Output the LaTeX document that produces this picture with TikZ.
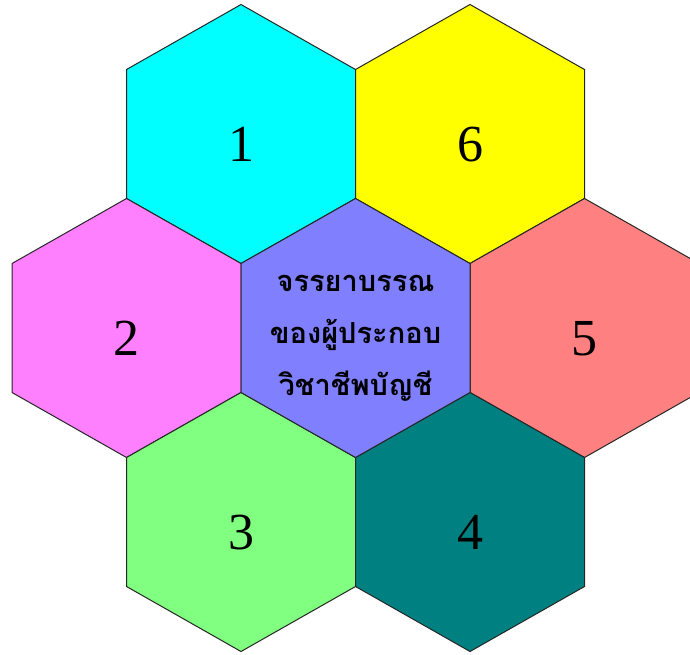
\documentclass[tikz,border=0pt]{standalone}
\usepackage{fontspec}
\setmainfont{Liberation Serif}
\newfontfamily\thaifont[Script=Thai]{Loma}
\usetikzlibrary{calc}

\definecolor{hexcyan}{HTML}{00FFFF}
\definecolor{hexyellow}{HTML}{FFFF00}
\definecolor{hexpink}{HTML}{FF80FF}
\definecolor{hexblue}{HTML}{8080FF}
\definecolor{hexsalmon}{HTML}{FF8080}
\definecolor{hexgreen}{HTML}{80FF80}
\definecolor{hexteal}{HTML}{008080}

\begin{document}
\begin{tikzpicture}[x=1pt,y=-1pt]

% --------------------
% Parameters (pixel units, y grows downwards)
% --------------------
\def\hexW{114.5}  % half width of a cell
\def\hexR{129.5}  % centre to top/bottom tip
\def\hexS{64.5}   % centre to side corners (vertical)
\def\numOff{27}   % baseline of the digit below the centre

\tikzset{
  hexcell/.style={draw=black!85, line width=1pt, line join=miter},
  numlbl/.style={font=\fontsize{52}{60}\selectfont, anchor=base, inner sep=0pt},
  titlelbl/.style={font=\thaifont\bfseries\fontsize{29}{52}\selectfont, align=center, inner sep=0pt}
}

\useasboundingbox (0,0) rectangle (690,655);
\clip (0,0) rectangle (690,655);

% --------------------
% Outer cells with numbers
% --------------------
\foreach \hx/\cx/\cy/\hcol/\txt in {
    c1/241/134/hexcyan/1,
    c6/470/134/hexyellow/6,
    c2/126.5/328/hexpink/2,
    c5/584.5/328/hexsalmon/5,
    c3/241/522/hexgreen/3,
    c4/470/522/hexteal/4}{
  \coordinate (\hx) at (\cx,\cy);
  \path[hexcell, fill=\hcol]
    ($(\hx)+(0,-\hexR)$) --
    ($(\hx)+(\hexW,-\hexS)$) --
    ($(\hx)+(\hexW,\hexS)$) --
    ($(\hx)+(0,\hexR)$) --
    ($(\hx)+(-\hexW,\hexS)$) --
    ($(\hx)+(-\hexW,-\hexS)$) -- cycle;
  \node[numlbl] (\hx-num) at ($(\hx)+(0,\numOff)$) {\txt};
}

% --------------------
% Centre cell with the title
% --------------------
\coordinate (c0) at (355.5,328);
\path[hexcell, fill=hexblue]
  ($(c0)+(0,-\hexR)$) --
  ($(c0)+(\hexW,-\hexS)$) --
  ($(c0)+(\hexW,\hexS)$) --
  ($(c0)+(0,\hexR)$) --
  ($(c0)+(-\hexW,\hexS)$) --
  ($(c0)+(-\hexW,-\hexS)$) -- cycle;

\node[titlelbl] (title) at ($(c0)+(0,10)$)
  {จรรยาบรรณ\\ของผู้ประกอบ\\วิชาชีพบัญชี};

\end{tikzpicture}
\end{document}
